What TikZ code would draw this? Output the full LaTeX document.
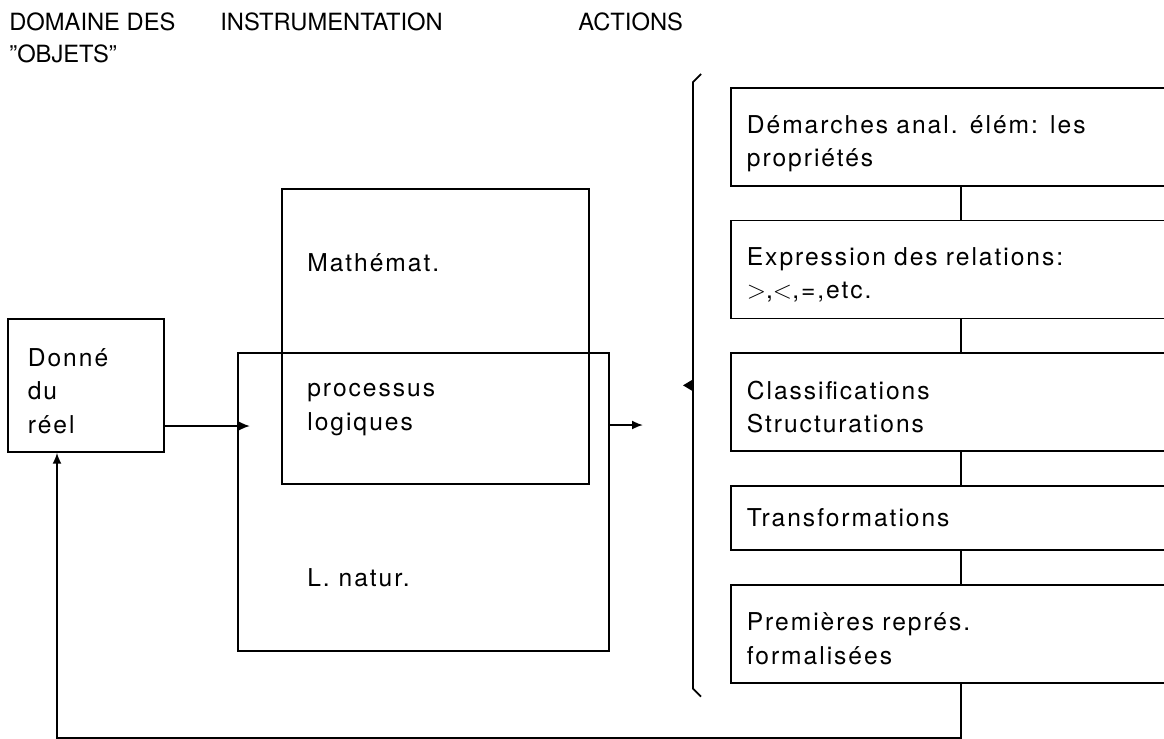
\documentclass[tikz,border=0pt]{standalone}
\usepackage{fontspec}
\setmainfont{TeX Gyre Heros}
\newfontfamily\widefont[LetterSpace=8]{TeX Gyre Heros}
\usetikzlibrary{arrows.meta,calc,positioning}
\tikzset{
  txt/.style={font=\widefont\fontsize{14}{19}\selectfont, inner sep=0pt, align=left},
  headtxt/.style={font=\fontsize{13.5}{18.5}\selectfont, inner sep=0pt, align=left, anchor=north west},
  lowered/.style={text height=#1},
  plainbox/.style={draw, line width=1pt, anchor=north west, inner sep=0pt},
  objbox/.style={plainbox, txt, lowered=16.5pt, minimum width=3.12cm, minimum height=2.66cm, text width=2.32cm, inner xsep=0.4cm},
  actbox/.style={draw, line width=1pt, txt, minimum width=9.2cm, text width=8.56cm, inner xsep=0.32cm, minimum height=1.96cm},
  arrow/.style={-{Latex[length=2.2mm, width=1.8mm]}, line width=1pt},
  link/.style={line width=1pt}
}

\begin{document}
\begin{tikzpicture}[x=0.02cm, y=-0.02cm, node distance=0.66cm]
  \clip (0,0) rectangle (1164,738);
  \fill[white] (0,0) rectangle (1164,738);

  % headings
  \node[headtxt] (hdom) at (9,12) {DOMAINE DES\\''OBJETS''};
  \node[headtxt] (hinst) at (220,12) {INSTRUMENTATION};
  \node[headtxt] (hact) at (578,12) {ACTIONS};

  % objects
  \node[objbox] (donne) at (7,318) {Donné\\du\\réel};

  % instrumentation
  \node[plainbox, minimum width=6.14cm, minimum height=5.9cm] (math) at (281,188) {};
  \node[plainbox, minimum width=7.42cm, minimum height=5.96cm] (natur) at (237,352) {};
  \node[txt, anchor=base west] (tmath) at (307,271) {Mathémat.};
  \node[txt, anchor=base west] (tproc) at (307,430) {processus\\logiques};
  \node[txt, anchor=base west] (tnat) at (307,586) {L. natur.};

  % actions
  \node[actbox, lowered=18pt, anchor=north west] (act1) at (730,87) {Démarches anal. élém: les\\propriétés};
  \node[actbox, lowered=16pt, below=of act1] (act2) {Expression des relations:\\$>$,$<$,=,etc.};
  \node[actbox, lowered=16pt, below=of act2] (act3) {Classifications\\Structurations};
  \node[actbox, below=of act3, minimum height=1.28cm] (act4) {Transformations};
  \node[actbox, lowered=16pt, below=of act4] (act5) {Premières représ.\\formalisées};

  \draw[link] (act1) -- (act2);
  \draw[link] (act2) -- (act3);
  \draw[link] (act3) -- (act4);
  \draw[link] (act4) -- (act5);

  % brace round the actions
  \coordinate (btop) at ([xshift=-0.74cm, yshift=0.2cm]act1.north west);
  \coordinate (bbot) at ([xshift=-0.74cm, yshift=-0.2cm]act5.south west);
  \coordinate (bmid) at ($(btop)!0.5!(bbot)$);
  \draw[link] ([xshift=0.16cm, yshift=0.06cm]btop) -- ([yshift=-0.1cm]btop) -- ([yshift=0.1cm]bbot) -- ([xshift=0.16cm, yshift=-0.06cm]bbot);
  \fill (bmid) ++(0,-6) -- ++(-10,6) -- ++(10,6) -- cycle;

  % flows
  \coordinate (back) at (57,738);
  \draw[arrow] (donne.east |- 0,426) -- (250,426);
  \draw[arrow] (natur.east |- 0,425) -- (643,425);
  \draw[arrow] (act5.south) |- (back) -- (back |- donne.south);
\end{tikzpicture}
\end{document}
